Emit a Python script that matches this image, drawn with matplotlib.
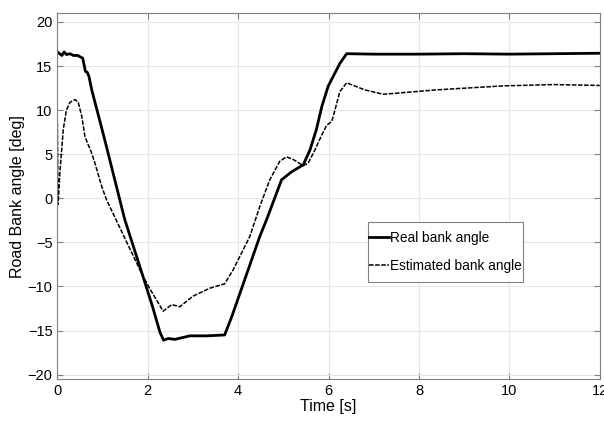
import numpy as np
import matplotlib
matplotlib.use("Agg")
import matplotlib.pyplot as plt
from matplotlib.patches import Rectangle

plt.rcParams['font.family'] = ['Liberation Sans', 'DejaVu Sans']

# data =============================================================
real_t = [0.0, 0.05, 0.1, 0.15, 0.2, 0.28, 0.35, 0.45, 0.52, 0.56, 0.62, 0.66, 0.7,
          0.76, 1.05, 1.49, 1.89, 2.1, 2.27, 2.35, 2.45, 2.6, 2.93, 3.3, 3.7,
          3.86, 4.48, 4.63, 4.96, 5.18, 5.44, 5.59, 5.73, 5.85, 5.99, 6.14,
          6.25, 6.4, 7.0, 8.0, 9.0, 10.0, 11.0, 12.0]
real_v = [16.6, 16.4, 16.2, 16.6, 16.3, 16.4, 16.2, 16.2, 16.0, 15.9, 14.4, 14.3, 13.8,
          12.3, 6.6, -2.4, -8.8, -12.2, -15.2, -16.1, -15.9, -16.0, -15.6, -15.6, -15.5,
          -13.4, -4.3, -2.4, 2.1, 3.0, 3.8, 5.5, 7.8, 10.4, 12.7, 14.2,
          15.3, 16.4, 16.35, 16.35, 16.4, 16.35, 16.4, 16.45]

est_t = [0.0, 0.015, 0.055, 0.13, 0.2, 0.28, 0.39, 0.46, 0.54, 0.61, 0.76, 0.83,
         0.98, 1.09, 1.23, 1.89, 2.05, 2.34, 2.53, 2.71, 3.0, 3.37, 3.7, 3.89,
         4.26, 4.48, 4.7, 4.92, 5.07, 5.22, 5.44, 5.55, 5.7, 5.85, 5.96, 6.07,
         6.14, 6.25, 6.4, 6.8, 7.21, 8.39, 9.86, 10.97, 12.0]
est_v = [8.6, -0.7, 2.9, 7.8, 10.0, 10.9, 11.2, 10.9, 9.3, 7.0, 5.1, 4.0,
         1.35, -0.2, -1.7, -8.8, -10.3, -12.8, -12.05, -12.3, -11.1, -10.2, -9.7, -8.1,
         -4.3, -0.9, 2.1, 4.2, 4.7, 4.4, 3.7, 4.0, 5.5, 7.2, 8.3, 8.7,
         10.0, 12.1, 13.1, 12.3, 11.8, 12.3, 12.75, 12.9, 12.8]

x_ticks = [0, 2, 4, 6, 8, 10, 12]
y_ticks = [-20, -15, -10, -5, 0, 5, 10, 15, 20]
# ==================================================================

fig = plt.figure(figsize=(6.04, 4.24), dpi=100)
ax = fig.add_axes([0.095, 0.106, 0.898, 0.863])

ax.plot(real_t, real_v, color='black', linewidth=2.0, label='Real bank angle')
ax.plot(est_t, est_v, color='black', linewidth=1.1, linestyle=(0, (3, 1)),
        label='Estimated bank angle')

ax.set_xlim(0, 12)
ax.set_ylim(-20.5, 21)
ax.set_xticks(x_ticks)
ax.set_yticks(y_ticks)
ax.tick_params(direction='in', top=True, right=True, labelsize=10.5,
               color='#808080', length=4)
for s in ax.spines.values():
    s.set_color('#808080')
    s.set_linewidth(0.8)
ax.grid(True, color='#e6e6e6', linewidth=0.8)
ax.set_axisbelow(True)

ax.set_xlabel('Time [s]', fontsize=11.5, labelpad=1)
ax.set_ylabel('Road Bank angle [deg]', fontsize=11.5, labelpad=2)

# legend box drawn by hand (tight sides, tall rows like the original)
box_x0, box_x1 = 0.5727, 0.8584
box_y0, box_y1 = 0.2651, 0.4291
ax.add_patch(Rectangle((box_x0, box_y0), box_x1 - box_x0, box_y1 - box_y0,
                       transform=ax.transAxes, facecolor='white',
                       edgecolor='#808080', linewidth=0.8, zorder=4))
leg = ax.legend(loc='center left', bbox_to_anchor=(box_x0 + 0.001, (box_y0 + box_y1) / 2),
                fontsize=9.8, handlelength=1.5, handletextpad=0.1, borderpad=0.0,
                labelspacing=1.05, frameon=False, borderaxespad=0)
leg.set_zorder(5)

fig.savefig('out.png', dpi=100)
